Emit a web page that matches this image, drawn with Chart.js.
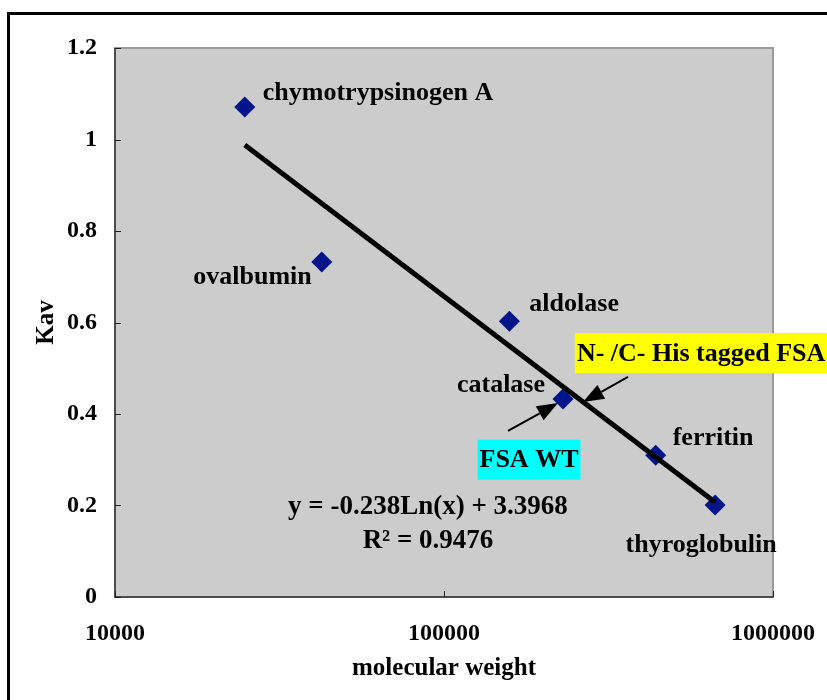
<!DOCTYPE html>
<html><head><meta charset="utf-8">
<script src="https://cdn.jsdelivr.net/npm/chart.js@4/dist/chart.umd.min.js"></script>
<style>html,body{margin:0;padding:0;background:#fff;overflow:hidden;}#wrap{width:827px;height:700px;}</style>
</head><body><div id="wrap"><canvas id="c" width="827" height="700"></canvas></div>
<script>
// ---- data ----
const proteins = ['chymotrypsinogen A', 'ovalbumin', 'aldolase', 'catalase', 'ferritin', 'thyroglobulin'];
const molecularWeight = [24800, 42500, 158000, 230000, 440000, 667000];
const kav = [1.071, 0.732, 0.603, 0.433, 0.310, 0.201];
const trendWeight = [24800, 667000];
const trendKav = [0.988, 0.207];
const xTickValues = [10000, 100000, 1000000];
const yTickValues = [0, 0.2, 0.4, 0.6, 0.8, 1, 1.2];
const equationLines = ['y = -0.238Ln(x) + 3.3968', 'R\u00B2 = 0.9476'];
const xTitle = 'molecular weight';
const yTitle = 'Kav';

// annotation anchors in data units (x = molecular weight, y = Kav)
const equationAnchors = [[89400, 0.197], [89400, 0.123]];
const boxNotes = [
  {text: 'N- /C- His tagged FSA', bg: '#FFFF00', x: 250000, y: 0.533, align: 'left'},
  {text: 'FSA WT', bg: '#00FFFF', x: 181300, y: 0.300, align: 'center'}
];
const arrowNotes = [
  {from: [156500, 0.363], to: [222100, 0.424]},
  {from: [362500, 0.481], to: [264500, 0.426]}
];
// label placement relative to marker (pixels)
const labelOffsets = [[18, -14, 'left'], [-10, 15, 'right'], [20, -17, 'left'], [-18, -14, 'right'], [17, -17, 'left'], [-14, 40, 'center']];

const FAMILY = '"Liberation Serif", "Times New Roman", serif';
const labelFont = 'bold 26px ' + FAMILY;
const equationFont = 'bold 27px ' + FAMILY;

const decor = {
  id: 'decor',
  beforeDraw(chart) {
    const ctx = chart.ctx, a = chart.chartArea;
    ctx.save();
    ctx.fillStyle = '#ffffff';
    ctx.fillRect(0, 0, chart.width, chart.height);
    // outer frame
    ctx.strokeStyle = '#000';
    ctx.lineWidth = 3;
    ctx.strokeRect(8.5, 13.5, chart.width + 20, chart.height + 20);
    // plot area
    ctx.fillStyle = '#CCCCCC';
    ctx.fillRect(a.left, a.top, a.right - a.left, a.bottom - a.top);
    ctx.strokeStyle = '#9a9a9a';
    ctx.lineWidth = 2;
    ctx.strokeRect(a.left, a.top, a.right - a.left, a.bottom - a.top);
    ctx.strokeStyle = '#333';
    ctx.lineWidth = 1.5;
    ctx.beginPath();
    ctx.moveTo(a.left, a.top); ctx.lineTo(a.left, a.bottom); ctx.lineTo(a.right, a.bottom);
    ctx.stroke();
    // inward tick marks
    const xs = chart.scales.x, ys = chart.scales.y;
    ctx.lineWidth = 1;
    ctx.strokeStyle = '#222';
    ctx.beginPath();
    yTickValues.forEach(v => { const py = Math.round(ys.getPixelForValue(v)) + 0.5; ctx.moveTo(a.left, py); ctx.lineTo(a.left + 6, py); });
    xTickValues.forEach(v => { const px = Math.round(xs.getPixelForValue(v)) + 0.5; ctx.moveTo(px, a.bottom); ctx.lineTo(px, a.bottom - 6); });
    ctx.stroke();
    ctx.restore();
  },
  afterDraw(chart) {
    const ctx = chart.ctx, xs = chart.scales.x, ys = chart.scales.y;
    ctx.save();
    ctx.font = labelFont;
    ctx.fillStyle = '#000';
    ctx.textBaseline = 'middle';
    // point labels
    const meta = chart.getDatasetMeta(1);
    meta.data.forEach((pt, i) => {
      const o = labelOffsets[i];
      ctx.textAlign = o[2];
      ctx.fillText(proteins[i], pt.x + o[0], pt.y + o[1]);
    });
    // equation
    ctx.font = equationFont;
    ctx.textAlign = 'center';
    equationLines.forEach((t, i) => {
      ctx.fillText(t, xs.getPixelForValue(equationAnchors[i][0]), ys.getPixelForValue(equationAnchors[i][1]));
    });
    // highlighted notes
    ctx.font = labelFont;
    boxNotes.forEach(n => {
      const w = ctx.measureText(n.text).width;
      const px = xs.getPixelForValue(n.x), py = ys.getPixelForValue(n.y);
      const left = n.align === 'center' ? px - w / 2 - 2 : px;
      ctx.fillStyle = n.bg;
      ctx.fillRect(left, py - 20, w + 4, 40);
      ctx.fillStyle = '#000';
      ctx.textAlign = 'left';
      ctx.fillText(n.text, left + 2, py + 1);
    });
    // arrows
    arrowNotes.forEach(ar => {
      const x1 = xs.getPixelForValue(ar.from[0]), y1 = ys.getPixelForValue(ar.from[1]);
      const x2 = xs.getPixelForValue(ar.to[0]), y2 = ys.getPixelForValue(ar.to[1]);
      const ang = Math.atan2(y2 - y1, x2 - x1);
      const hl = 21, hw = 8;
      const bx = x2 - hl * Math.cos(ang), by = y2 - hl * Math.sin(ang);
      ctx.strokeStyle = '#000';
      ctx.lineWidth = 2;
      ctx.beginPath(); ctx.moveTo(x1, y1); ctx.lineTo(bx, by); ctx.stroke();
      ctx.fillStyle = '#000';
      ctx.beginPath();
      ctx.moveTo(x2, y2);
      ctx.lineTo(bx + hw * Math.sin(ang), by - hw * Math.cos(ang));
      ctx.lineTo(bx - hw * Math.sin(ang), by + hw * Math.cos(ang));
      ctx.closePath(); ctx.fill();
    });
    ctx.restore();
  }
};

const tickFont = {family: FAMILY, size: 24, weight: 'bold'};
const titleFont = {family: FAMILY, size: 25, weight: 'bold'};

new Chart(document.getElementById('c'), {
  type: 'scatter',
  data: {
    datasets: [
      {
        label: 'trend',
        data: trendWeight.map((x, i) => ({x, y: trendKav[i]})),
        showLine: true, borderColor: '#000', borderWidth: 5, pointRadius: 0, borderCapStyle: 'butt', order: 1
      },
      {
        label: 'proteins',
        data: molecularWeight.map((x, i) => ({x, y: kav[i]})),
        pointStyle: 'rectRot', pointRadius: 10.5, backgroundColor: '#00148C', borderColor: '#00148C', borderWidth: 0, order: 2
      }
    ]
  },
  options: {
    responsive: false, animation: false, devicePixelRatio: 1,
    layout: {padding: {left: 0, top: 48, right: 54, bottom: 0}},
    plugins: {legend: {display: false}, tooltip: {enabled: false}},
    scales: {
      x: {
        type: 'logarithmic', min: 10000, max: 1000000,
        afterBuildTicks: s => { s.ticks = xTickValues.map(v => ({value: v})); },
        afterFit: s => { s.height = 103; s.paddingLeft = 0; s.paddingRight = 0; },
        ticks: {callback: v => String(v), font: tickFont, color: '#000', padding: 22, maxRotation: 0, autoSkip: false},
        grid: {display: false, drawTicks: false},
        border: {display: false},
        title: {display: true, text: xTitle, font: titleFont, color: '#000', padding: {top: 0, bottom: 16}}
      },
      y: {
        min: 0, max: 1.2,
        afterBuildTicks: s => { s.ticks = yTickValues.map(v => ({value: v})); },
        afterFit: s => { s.width = 115; s.paddingTop = 0; s.paddingBottom = 0; },
        ticks: {callback: v => String(v), font: tickFont, color: '#000', padding: 18},
        grid: {display: false, drawTicks: false},
        border: {display: false},
        title: {display: true, text: yTitle, font: titleFont, color: '#000', padding: {top: 32, bottom: 0}}
      }
    }
  },
  plugins: [decor]
});
</script>
</body></html>
